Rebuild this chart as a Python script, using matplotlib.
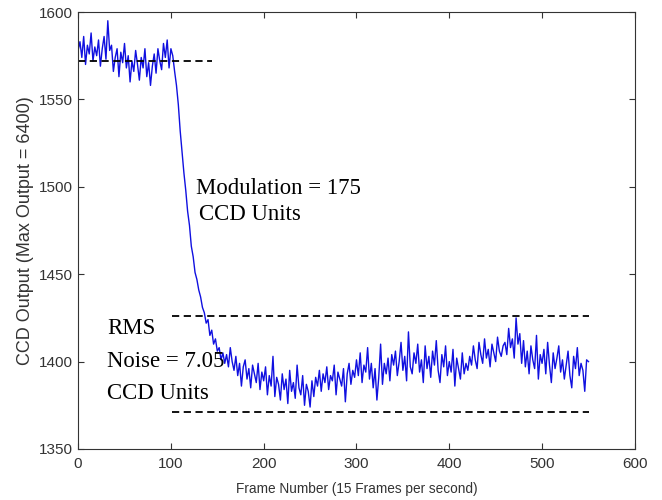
import numpy as np
import matplotlib
matplotlib.use("Agg")
from matplotlib import pyplot as plt

# CCD output, one value every 2 frames (frames 0..550)
ccd_output = [
    1578, 1583, 1574, 1586, 1570, 1581, 1576, 1588, 1572, 1580,
    1575, 1584, 1569, 1579, 1586, 1573, 1595, 1578, 1581, 1566,
    1574, 1579, 1563, 1577, 1571, 1582, 1568, 1575, 1560, 1572,
    1566, 1578, 1570, 1561, 1574, 1568, 1579, 1563, 1571, 1558,
    1569, 1576, 1565, 1579, 1572, 1567, 1582, 1574, 1584, 1568,
    1579, 1575, 1566, 1558, 1547, 1532, 1520, 1508, 1498, 1486,
    1478, 1466, 1460, 1451, 1447, 1441, 1437, 1431, 1428, 1422,
    1424, 1415, 1418, 1410, 1413, 1406, 1408, 1401, 1405, 1399,
    1404, 1397, 1408, 1400, 1395, 1403, 1392, 1399, 1386, 1397,
    1401, 1390, 1396, 1385, 1398, 1393, 1388, 1399, 1384, 1394,
    1389, 1397, 1381, 1392, 1386, 1403, 1380, 1391, 1387, 1378,
    1393, 1384, 1390, 1376, 1395, 1383, 1388, 1379, 1398, 1385,
    1381, 1392, 1375, 1387, 1383, 1374, 1389,
    1380, 1391, 1386, 1395, 1383, 1393, 1388, 1397, 1384, 1392,
    1389, 1398, 1381, 1394, 1390, 1386, 1396, 1377, 1393, 1399, 1387, 1395, 1391,
    1401, 1392, 1405, 1388, 1398, 1394, 1408, 1390, 1399, 1385,
    1396, 1378, 1391, 1410, 1387, 1399, 1393, 1402, 1389, 1404,
    1398, 1406, 1392, 1400, 1411, 1395, 1403, 1389, 1417, 1397,
    1393, 1405, 1399, 1410, 1394, 1401, 1388, 1409, 1396, 1403,
    1391, 1406, 1398, 1412, 1395, 1388, 1404, 1397, 1409, 1392,
    1400, 1394, 1407, 1386, 1402, 1396, 1390, 1405, 1393, 1399,
    1395, 1403, 1398, 1409, 1401, 1396, 1411, 1404, 1399, 1413,
    1402, 1407, 1397, 1410, 1405, 1400, 1414, 1406, 1403, 1409,
    1411, 1404, 1419, 1408, 1413, 1402, 1425, 1410, 1416, 1399,
    1412, 1397, 1406, 1393, 1409, 1401, 1396, 1415, 1390, 1404,
    1399, 1407, 1393, 1411, 1398, 1388, 1405, 1396, 1402, 1409,
    1394, 1401, 1390, 1398, 1406, 1392, 1385, 1403, 1396, 1408,
    1392, 1399, 1395, 1383, 1401, 1400,
]
frames = np.arange(0, 2 * len(ccd_output), 2)

# reference levels (dashed lines): level, start frame, end frame
ref_levels = [1572, 1426, 1371]
ref_start = [0, 101, 101]
ref_end = [144, 551, 551]

fig = plt.figure(figsize=(6.62, 5.0), dpi=100)
ax = fig.add_axes([0.118, 0.102, 0.841, 0.874])

ax.plot(frames, ccd_output, color='#1010e0', linewidth=1.0)
ax.hlines(ref_levels, ref_start, ref_end, colors='black',
          linestyles=(0, (4, 2.5)), linewidth=1.3)

ax.set_xlim(0, 600)
ax.set_ylim(1350, 1600)
ax.set_xticks(range(0, 601, 100))
ax.set_yticks(range(1350, 1601, 50))
ax.tick_params(direction='in', top=True, right=True, length=4,
               labelsize=11, colors='#333333')
ax.tick_params(axis='x', pad=6)
for lab in ax.get_xticklabels() + ax.get_yticklabels():
    lab.set_family('Liberation Sans')
for sp in ax.spines.values():
    sp.set_color('#333333')

ax.set_xlabel('Frame Number (15 Frames per second)', family='Liberation Sans',
              fontsize=9.8, color='#333333', labelpad=8)
ax.set_ylabel('CCD Output (Max Output = 6400)', family='Liberation Sans',
              fontsize=13, color='#333333', labelpad=4)

serif = dict(family='Liberation Serif', fontsize=16.4, color='black', va='center')
ax.text(127, 1499, 'Modulation = 175', **serif)
ax.text(130, 1484, 'CCD Units', **serif)
ax.text(31, 1419, 'RMS', **serif)
ax.text(31, 1400, 'Noise = 7.05', **serif)
ax.text(31, 1382, 'CCD Units', **serif)

plt.savefig('out.png', dpi=100)
